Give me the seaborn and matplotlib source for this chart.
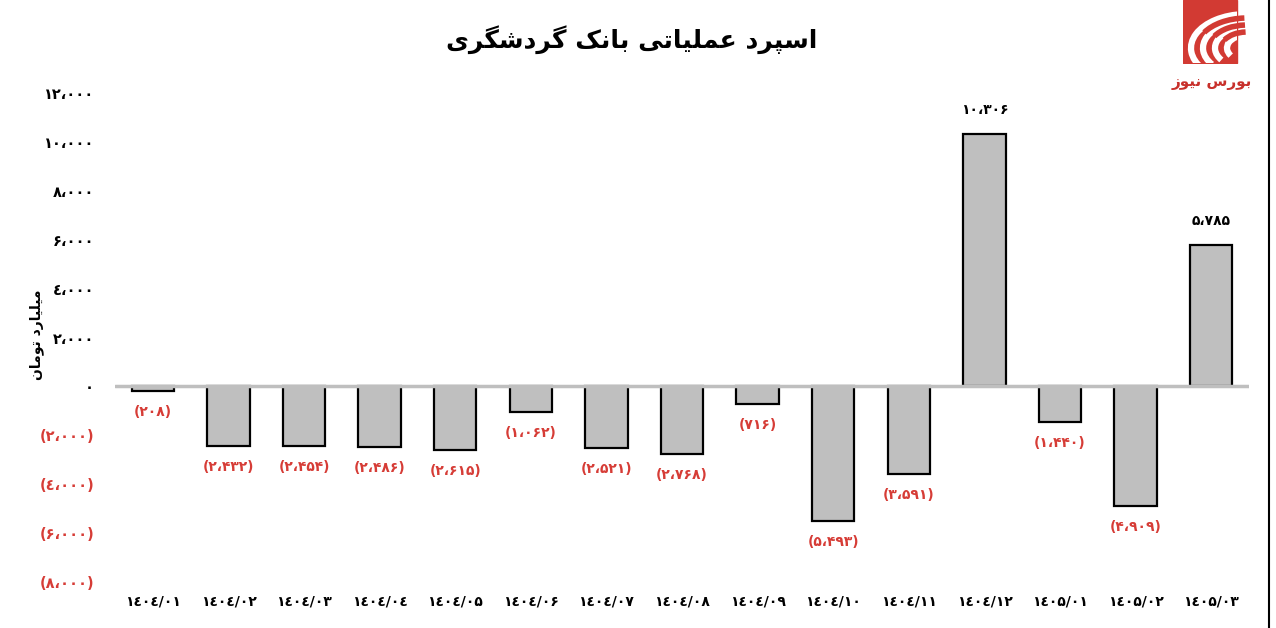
import matplotlib
matplotlib.use("Agg")
import matplotlib.pyplot as plt
import seaborn as sns
from matplotlib.patches import Rectangle, Arc
from matplotlib.lines import Line2D

# data (billion toman)
periods = ["1404/01", "1404/02", "1404/03", "1404/04", "1404/05", "1404/06",
           "1404/07", "1404/08", "1404/09", "1404/10", "1404/11", "1404/12",
           "1405/01", "1405/02", "1405/03"]
spread = [-208, -2432, -2454, -2486, -2615, -1062, -2521, -2768, -716,
          -5493, -3591, 10306, -1440, -4909, 5785]
y_ticks = [-8000, -6000, -4000, -2000, 0, 2000, 4000, 6000, 8000, 10000, 12000]

title_text = "اسپرد عملیاتی بانک گردشگری"
ylabel_text = "میلیارد تومان"
logo_text = "بورس نیوز"

RED = "#d63c36"
BAR_GREY = "#bfbfbf"
LOGO_RED = "#d23a33"

# persian digits (the axis font draws 4 in the arabic style)
FA_DIGITS = str.maketrans("0123456789,", "۰۱۲۳۴۵۶۷۸۹،")
AXIS_DIGITS = str.maketrans("0123456789,", "۰۱۲۳٤۵۶۷۸۹،")

# isolated, final, initial, medial presentation forms
FORMS = {
    "ا": ("\uFE8D", "\uFE8E", None, None),
    "ب": ("\uFE8F", "\uFE90", "\uFE91", "\uFE92"),
    "پ": ("\uFB56", "\uFB57", "\uFB58", "\uFB59"),
    "ت": ("\uFE95", "\uFE96", "\uFE97", "\uFE98"),
    "د": ("\uFEA9", "\uFEAA", None, None),
    "ر": ("\uFEAD", "\uFEAE", None, None),
    "ز": ("\uFEAF", "\uFEB0", None, None),
    "س": ("\uFEB1", "\uFEB2", "\uFEB3", "\uFEB4"),
    "ش": ("\uFEB5", "\uFEB6", "\uFEB7", "\uFEB8"),
    "ع": ("\uFEC9", "\uFECA", "\uFECB", "\uFECC"),
    "ک": ("\uFB8E", "\uFB8F", "\uFB90", "\uFB91"),
    "گ": ("\uFB92", "\uFB93", "\uFB94", "\uFB95"),
    "ل": ("\uFEDD", "\uFEDE", "\uFEDF", "\uFEE0"),
    "م": ("\uFEE1", "\uFEE2", "\uFEE3", "\uFEE4"),
    "ن": ("\uFEE5", "\uFEE6", "\uFEE7", "\uFEE8"),
    "و": ("\uFEED", "\uFEEE", None, None),
    "ی": ("\uFBFC", "\uFBFD", "\uFBFE", "\uFBFF"),
}


def shape(text):
    # join letters and put them in visual (left to right) order
    out = []
    for i, ch in enumerate(text):
        if ch not in FORMS:
            out.append(ch)
            continue
        prev = text[i - 1] if i > 0 else ""
        nxt = text[i + 1] if i + 1 < len(text) else ""
        jp = prev in FORMS and FORMS[prev][2] is not None
        jn = nxt in FORMS and FORMS[ch][2] is not None
        iso, fin, ini, med = FORMS[ch]
        if jp and jn:
            out.append(med)
        elif jp:
            out.append(fin)
        elif jn:
            out.append(ini)
        else:
            out.append(iso)
    return "".join(reversed(out))


def fa_number(v, table=FA_DIGITS):
    s = f"{abs(v):,}".translate(table)
    return f"({s})" if v < 0 else s


sns.set_style("white")
plt.rcParams["font.family"] = ["DejaVu Sans"]
plt.rcParams["text.color"] = "black"
plt.rcParams["xtick.color"] = "black"
plt.rcParams["ytick.color"] = "black"

fig = plt.figure(figsize=(12.76, 6.28), dpi=100)
ax = fig.add_axes([115 / 1276, 1 - 582 / 628, 1134 / 1276, 489 / 628])

x_labels = [p.translate(AXIS_DIGITS) for p in periods]
sns.barplot(x=x_labels, y=spread, color=BAR_GREY, saturation=1,
            edgecolor="black", linewidth=1.6, width=0.56, ax=ax)

ax.axhline(0, color=BAR_GREY, lw=2.5, zorder=5)
ax.set_xlim(-0.5, len(periods) - 0.5)
ax.set_ylim(-8000, 12000)
ax.set_yticks(y_ticks)
ax.set_yticklabels([fa_number(t, AXIS_DIGITS) for t in y_ticks],
                   fontsize=10.5, fontweight="bold")
for lab, t in zip(ax.get_yticklabels(), y_ticks):
    lab.set_color(RED if t < 0 else "black")
for lab in ax.get_xticklabels():
    lab.set_fontsize(10)
    lab.set_fontweight("bold")
ax.tick_params(axis="y", length=0, pad=15)
ax.tick_params(axis="x", length=0, pad=9)
sns.despine(ax=ax, left=True, bottom=True)
ax.grid(False)

# value labels
for i, v in enumerate(spread):
    if v < 0:
        ax.annotate(fa_number(v), (i, v), xytext=(0, -21), textcoords="offset pixels",
                    ha="center", va="center", color=RED, fontsize=10, fontweight="bold")
    else:
        ax.annotate(fa_number(v), (i, v), xytext=(0, 24), textcoords="offset pixels",
                    ha="center", va="center", color="black", fontsize=10, fontweight="bold")

fig.text(632 / 1276, 1 - 40 / 628, shape(title_text), ha="center", va="center",
         fontsize=18, fontweight="bold", color="black")
fig.text(37 / 1276, 1 - 335 / 628, shape(ylabel_text), ha="center", va="center",
         rotation=90, fontsize=10, fontweight="bold", color="black")

# logo in the corner: red square with white crescent bands
logo = fig.add_axes([1183 / 1276, 1 - 64 / 628, 66 / 1276, 64 / 628])
logo.set_xlim(0, 66)
logo.set_ylim(0, 64)
logo.axis("off")
square = Rectangle((0, 1), 54, 63, color=LOGO_RED)
logo.add_patch(square)
for rx, ry in [(56, 34), (44, 27), (32, 20), (20, 13)]:
    band = Arc((64, 16), 2 * rx, 2 * ry, theta1=95, theta2=205,
               color="white", lw=4.5)
    logo.add_patch(band)
    band.set_clip_path(square)
for rx, ry in [(50, 30), (38, 23), (26, 16)]:
    logo.add_patch(Arc((64, 16), 2 * rx, 2 * ry, theta1=95, theta2=160,
                       color=LOGO_RED, lw=4))
fig.text(1212 / 1276, 1 - 82 / 628, shape(logo_text), ha="center", va="center",
         fontsize=11, fontweight="bold", color="#c8302b")

# right frame line
fig.add_artist(Line2D([1269 / 1276, 1269 / 1276], [0, 1], color="black", lw=1.5))

fig.savefig("out.png", dpi=100)
